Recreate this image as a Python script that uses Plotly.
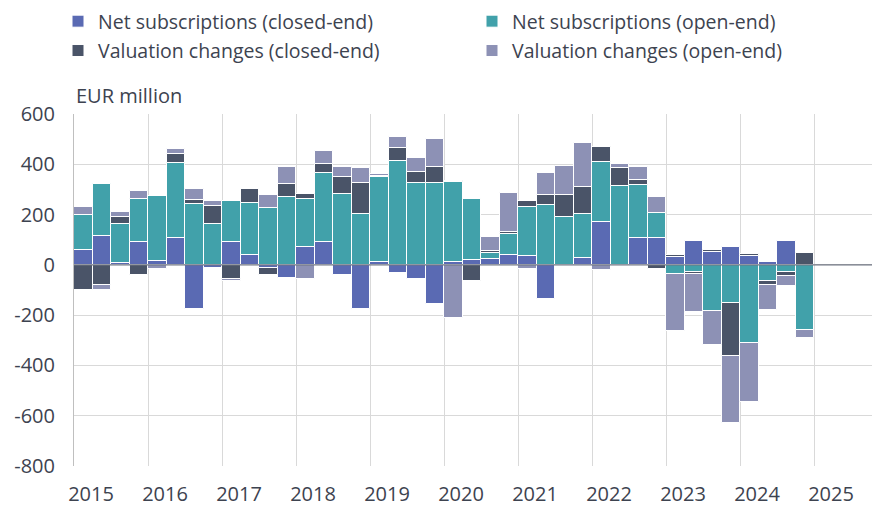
import plotly.graph_objects as go

# quarterly data 2015Q1 - 2024Q4, EUR million
years = list(range(2015, 2025))
quarters = [f"{y}Q{q}" for y in years for q in range(1, 5)]

net_closed = [61, 114, 8, 92, 16, 105, -176, -13,
              92, 40, -13, -53, 72, 90, -39, -177,
              12, -31, -58, -157, 12, 19, 22, 38,
              35, -134, 0, 29, 172, 0, 106, 105,
              30, 93, 53, 70, 37, 11, 93, 0]
net_open = [137, 207, 153, 169, 258, 299, 242, 161,
            162, 205, 228, 268, 190, 274, 282, 201,
            336, 412, 327, 327, 317, 242, 25, 86,
            196, 238, 190, 175, 236, 313, 210, 102,
            -37, -27, -183, -153, -309, -66, -27, -259]
val_closed = [-98, -81, 28, -41, 0, 37, 16, 74,
              -56, 55, -27, 53, 20, 36, 69, 123,
              5, 51, 41, 61, 6, -65, 8, 8,
              23, 40, 89, 104, 60, 73, 21, -18,
              9, -10, 5, -208, 7, -13, -16, 46]
val_open = [31, -17, 20, 33, -16, 21, 43, 19,
            -8, 0, 49, 67, -57, 51, 37, 60,
            10, 44, 58, 111, -210, 0, 55, 155,
            -17, 89, 115, 178, -22, 14, 51, 61,
            -228, -151, -135, -266, -235, -101, -40, -33]

# name, values, colour, which legend column
series = [
    ("Net subscriptions (closed-end)", net_closed, "#5a6ab3", "legend"),
    ("Net subscriptions (open-end)", net_open, "#41a1aa", "legend2"),
    ("Valuation changes (closed-end)", val_closed, "#4a5468", "legend"),
    ("Valuation changes (open-end)", val_open, "#8d91b5", "legend2"),
]

y_ticks = [-800, -600, -400, -200, 0, 200, 400, 600]
label_years = list(range(2015, 2026))

# bar centre on a decimal-year axis
xpos = [int(q[:4]) + (int(q[-1]) - 1) * 0.25 + 0.125 for q in quarters]

fig = go.Figure()
for name, vals, color, leg in series:
    fig.add_trace(go.Bar(
        x=xpos, y=vals, name=name, width=0.25, legend=leg, legendgroup=name,
        marker=dict(color=color, line=dict(color="white", width=1)),
    ))

text_color = "#3d4350"
grid_color = "#d9d9d9"
fsize = 20

# page body adds an 8px offset, so the figure is 8px smaller than the window
W, H = 872, 503

legend_style = dict(
    orientation="v", xref="container", yref="paper",
    y=1 + 112 / 352, xanchor="left", yanchor="top",
    font=dict(size=19.5), tracegroupgap=1, bgcolor="rgba(0,0,0,0)",
)

fig.update_layout(
    barmode="relative",
    width=W, height=H,
    margin=dict(l=66, r=0, t=106, b=45, autoexpand=False),
    plot_bgcolor="white", paper_bgcolor="white",
    font=dict(family="Open Sans", size=fsize, color=text_color),
    legend=dict(legend_style, x=50 / W),
    legend2=dict(legend_style, x=464 / W),
    showlegend=True,
    bargap=0,
)
fig.update_xaxes(
    range=[2015, 2015 + (W - 66) / 74.0],
    tickmode="array",
    tickvals=[y + 0.23 for y in label_years],
    ticktext=[str(y) for y in label_years],
    showgrid=False, zeroline=False, automargin=False,
    showline=False, ticks="",
    ticklabelstandoff=14,
    minor=dict(tickmode="array", tickvals=label_years, showgrid=True,
               gridcolor=grid_color, gridwidth=1, ticks=""),
)
fig.update_yaxes(
    range=[-800, 600], automargin=False,
    tickmode="array", tickvals=y_ticks, ticktext=[str(v) for v in y_ticks],
    showgrid=True, gridcolor=grid_color, gridwidth=1,
    zeroline=False,
    showline=True, linecolor="#bfbfbf", linewidth=1,
    ticks="", ticklabelstandoff=14,
)
# zero line drawn over the bars, as in the original
fig.add_hline(y=0, line=dict(color="#6f7482", width=1.3), layer="above")
fig.add_annotation(
    text="EUR million", xref="paper", yref="paper",
    x=0, y=1 + (114 - 95) / 352, xanchor="left", yanchor="middle",
    showarrow=False, font=dict(size=fsize, color=text_color),
)

fig.write_html("out.html")
